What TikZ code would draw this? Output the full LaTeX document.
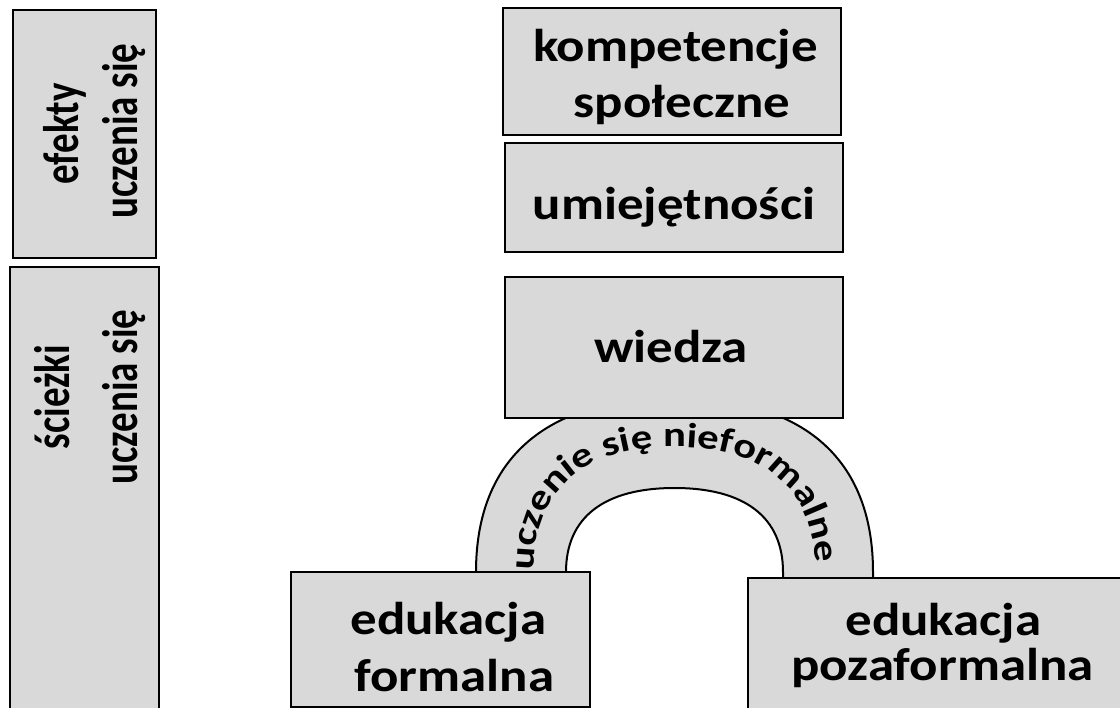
\documentclass[tikz,border=0pt]{standalone}
\usepackage{fontspec}
\setmainfont{Carlito}[FakeStretch=1.15]
\newfontfamily\vfont{Carlito}[FakeStretch=0.78]
\newfontfamily\afont{Carlito}[FakeStretch=1.22]
\usetikzlibrary{decorations.text}
\definecolor{boxgray}{HTML}{D9D9D9}
\tikzset{
 box/.style={draw=black, line width=2pt, fill=boxgray, rectangle, inner sep=0pt},
 lbl/.style={font=\bfseries\fontsize{46}{55}\selectfont, inner sep=0pt, anchor=base},
 vlbl/.style={font=\vfont\bfseries\fontsize{50}{60}\selectfont, inner sep=0pt, anchor=base, rotate=90},
}
\begin{document}
\begin{tikzpicture}[x=1pt,y=-1pt]
\useasboundingbox (0,0) rectangle (1120,708);
% arch
\path[fill=boxgray, draw=black, line width=2pt]
 (476,592) -- (476,572) .. controls (476,458.9) and (545.5,398) .. (674.5,398)
 .. controls (803.5,398) and (873,458.9) .. (873,572) -- (873,592) -- (783,592) -- (783,572)
 .. controls (783,517.4) and (745,488) .. (674.5,488)
 .. controls (604,488) and (566,517.4) .. (566,572) -- (566,592) -- cycle;
\path[decorate, decoration={text along path, text align=center,
  text={|\afont\bfseries\fontsize{35}{40}\selectfont|uczenie się nieformalne}}]
 (533.5,590) -- (533.5,572) .. controls (533.5,490.75) and (582.85,447) .. (674.5,447)
 .. controls (766.15,447) and (815.5,490.75) .. (815.5,572) -- (815.5,582);
% boxes
\node[box, minimum width=338pt, minimum height=127pt] (komp) at (672,71.5) {};
\node[box, minimum width=338pt, minimum height=109pt] (umie) at (674,197.5) {};
\node[box, minimum width=338pt, minimum height=141pt] (wied) at (674,347.5) {};
\node[box, minimum width=143pt, minimum height=248pt] (efek) at (84.5,134) {};
\node[box, minimum width=149pt, minimum height=463pt] (scie) at (84.5,498.5) {};
\node[box, minimum width=299pt, minimum height=135pt] (form) at (440.5,639.5) {};
\node[box, minimum width=387pt, minimum height=152pt] (poza) at (941.5,654) {};
% texts
\node[lbl] (t1) at (675.5,62) {kompetencje};
\node[lbl] (t2) at (682,118) {społeczne};
\node[lbl] (t3) at (674,220) {umiejętności};
\node[lbl] (t4) at (671,363) {wiedza};
\node[lbl] (t5) at (448.5,634) {edukacja};
\node[lbl] (t6) at (454.5,691) {formalna};
\node[lbl] (t7) at (943.5,635) {edukacja};
\node[lbl] (t8) at (942.5,680) {pozaformalna};
\node[vlbl] (t9) at (78,134) {efekty};
\node[vlbl] (t10) at (137,131) {uczenia się};
\node[vlbl] (t11) at (69,397) {ścieżki};
\node[vlbl] (t12) at (137,397) {uczenia się};
\end{tikzpicture}
\end{document}
